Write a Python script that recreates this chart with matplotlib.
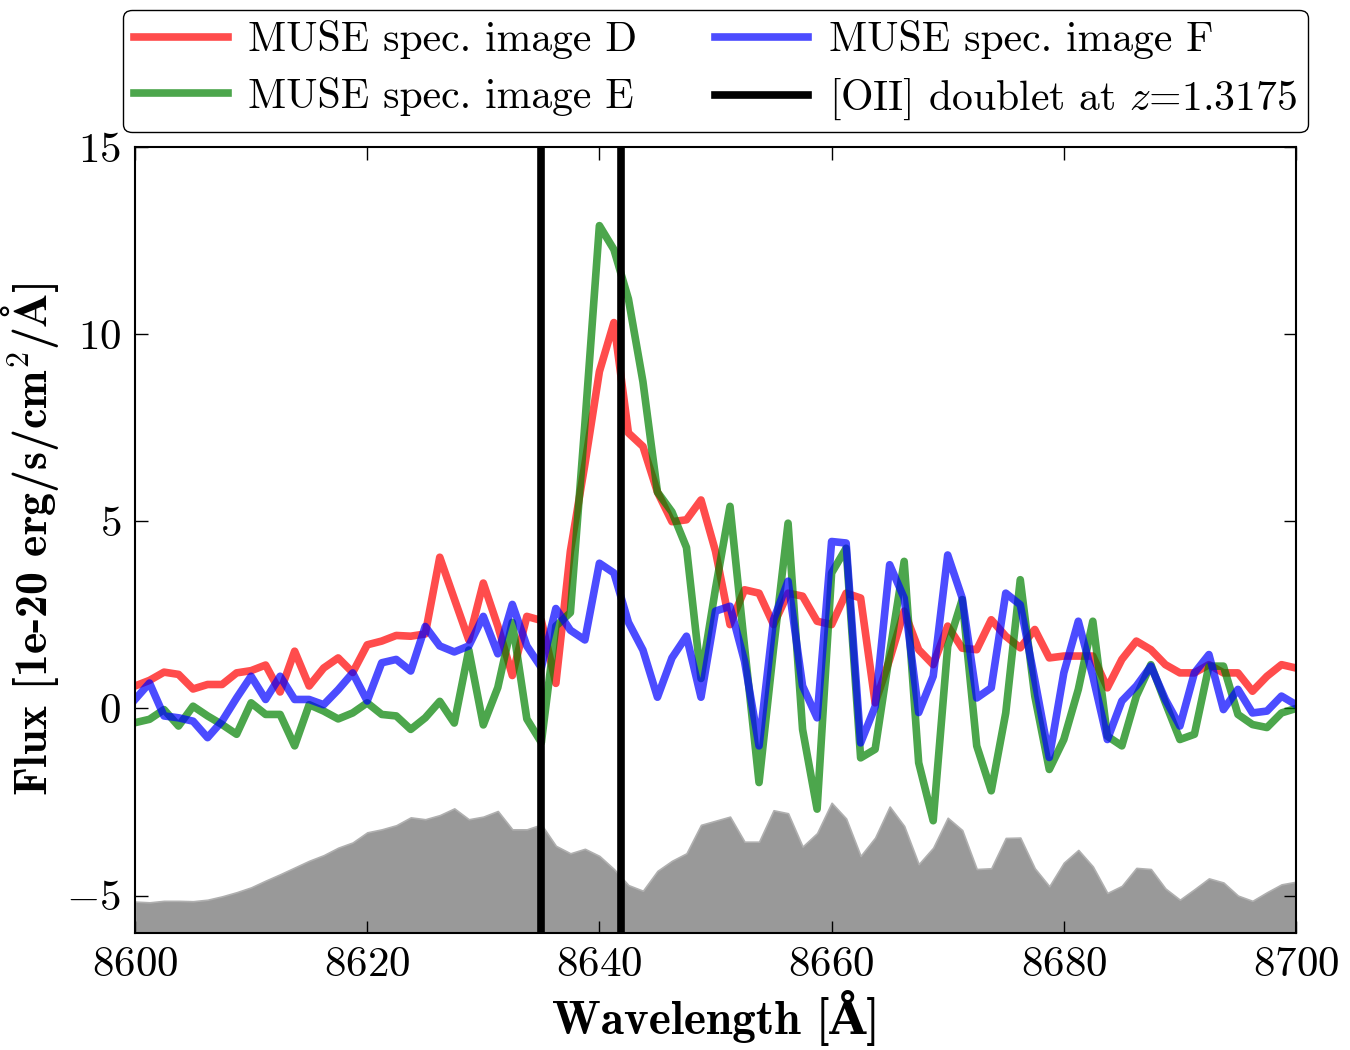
import numpy as np
import matplotlib
matplotlib.use('Agg')
import matplotlib.pyplot as plt

plt.rcParams['font.family'] = ['cmr10', 'DejaVu Serif']
plt.rcParams['mathtext.fontset'] = 'cm'
plt.rcParams['axes.formatter.use_mathtext'] = True

# wavelength grid (MUSE sampling, 1.25 A)
wave = 8600 + 1.25 * np.arange(81)

spec_D = [0.6, 0.75, 0.97, 0.91, 0.52, 0.64, 0.64, 0.95, 1.01, 1.16,
          0.44, 1.53, 0.6, 1.08, 1.35, 0.96, 1.7, 1.8, 1.95, 1.93,
          1.99, 4.04, 2.93, 1.83, 3.35, 2.2, 0.88, 2.46, 2.35, 0.67,
          4.2, 6.52, 9.0, 10.31, 7.36, 7.0, 5.78, 4.99, 5.04, 5.57,
          4.2, 2.24, 3.17, 3.08, 2.24, 3.08, 3.0, 2.33, 2.24, 3.08,
          2.95, 0.15, 1.31, 2.6, 1.57, 1.17, 2.2, 1.61, 1.57, 2.37,
          1.93, 1.62, 2.11, 1.35, 1.4, 1.4, 1.4, 0.55, 1.31, 1.8,
          1.57, 1.17, 0.95, 0.95, 1.17, 0.95, 0.95, 0.46, 0.86, 1.17,
          1.08]

spec_E = [-0.38, -0.29, -0.03, -0.47, 0.06, -0.2, -0.43, -0.69, 0.15, -0.16,
          -0.16, -1.0, 0.1, -0.07, -0.28, -0.12, 0.15, -0.16, -0.2, -0.56,
          -0.25, 0.19, -0.39, 1.56, -0.44, 0.56, 2.3, -0.28, -0.91, 2.2,
          2.56, 7.6, 12.9, 12.26, 10.94, 8.73, 5.78, 5.25, 4.3, 0.8,
          3.2, 5.4, 1.66, -1.98, 1.6, 4.95, -0.56, -2.69, 3.62, 4.28,
          -1.32, -1.09, 1.48, 3.93, -1.45, -3.0, 1.66, 2.91, -1.0, -2.2,
          -0.12, 3.44, 0.33, -1.63, -0.83, 0.51, 2.33, -0.74, -1.0, 0.33,
          1.17, 0.15, -0.83, -0.69, 1.13, 1.13, -0.16, -0.43, -0.51, -0.12,
          0.0]

spec_F = [0.24, 0.68, -0.2, -0.25, -0.34, -0.78, -0.34, 0.28, 0.86, 0.24,
          0.86, 0.24, 0.24, 0.1, 0.5, 0.95, 0.2, 1.22, 1.31, 1.0,
          2.19, 1.67, 1.51, 1.67, 2.46, 1.46, 2.78, 1.67, 1.09, 2.67,
          2.09, 1.83, 3.88, 3.62, 2.3, 1.56, 0.3, 1.35, 1.93, 0.3,
          2.6, 2.73, 1.26, -1.0, 2.37, 3.4, 0.6, -0.25, 4.46, 4.42,
          -0.92, 0.05, 3.84, 2.95, -0.11, 0.86, 4.1, 2.95, 0.28, 0.55,
          3.08, 2.77, 0.77, -1.31, 0.95, 2.33, 0.86, -0.83, 0.2, 0.6,
          1.13, 0.24, -0.47, 0.95, 1.44, -0.03, 0.51, -0.12, -0.07, 0.33,
          0.1]

# scaled sky spectrum (grey)
sky = [-5.16, -5.18, -5.14, -5.14, -5.15, -5.11, -5.02, -4.91, -4.78, -4.6,
       -4.43, -4.25, -4.07, -3.92, -3.72, -3.58, -3.31, -3.23, -3.12, -2.91,
       -2.96, -2.85, -2.67, -2.96, -2.89, -2.74, -3.23, -3.23, -3.1, -3.67,
       -3.87, -3.75, -3.94, -4.29, -4.72, -4.87, -4.34, -4.07, -3.87, -3.11,
       -3.0, -2.89, -3.56, -3.56, -2.72, -2.8, -3.69, -3.33, -2.52, -2.94,
       -3.94, -3.45, -2.62, -3.14, -4.16, -3.72, -2.92, -3.25, -4.29, -4.27,
       -3.46, -3.45, -4.27, -4.75, -4.12, -3.78, -4.22, -4.93, -4.74, -4.26,
       -4.29, -4.81, -5.11, -4.83, -4.54, -4.65, -5.0, -5.14, -4.91, -4.7,
       -4.63]

oii_lines = [8635.0, 8641.9]

fig = plt.figure(figsize=(13.5, 10.5), dpi=100)
ax = fig.add_axes([0.1, 0.1114, 0.86, 0.7486])

ax.fill_between(wave, sky, -10, facecolor='#999999', edgecolor='#b0b0b0', lw=1.2, zorder=1)

ax.plot(wave, spec_D, color='r', alpha=0.7, lw=5.5, label='MUSE spec. image D', zorder=2)
ax.plot(wave, spec_E, color='g', alpha=0.7, lw=5.5, label='MUSE spec. image E', zorder=2)
ax.plot(wave, spec_F, color='b', alpha=0.7, lw=5.5, label='MUSE spec. image F', zorder=2)
for i, w in enumerate(oii_lines):
    ax.axvline(w, color='k', lw=5.5, zorder=3,
               label='[OII] doublet at $z$=1.3175' if i == 0 else None)

ax.set_xlim(8600, 8700)
ax.set_ylim(-6, 15)
ax.set_xticks(np.arange(8600, 8701, 20))
ax.set_yticks([-5, 0, 5, 10, 15])
ax.tick_params(direction='in', top=True, right=True, length=9, width=1, labelsize=31, pad=10)
for s in ax.spines.values():
    s.set_linewidth(1.5)

ax.set_xlabel('Wavelength [Å]', fontsize=34, family=['cmb10', 'DejaVu Serif'], fontweight='bold')
ax.set_ylabel(r'Flux [1e-20 erg/s/cm$^2$/$\mathbf{Å}$]', fontsize=33,
              family=['cmb10', 'DejaVu Serif'], fontweight='bold')

leg = ax.legend(loc='lower center', bbox_to_anchor=(0.5, 1.0), ncol=2, fontsize=30,
                handlelength=2.25, handletextpad=0.5, columnspacing=1.85, labelspacing=0.42,
                borderpad=0.25, borderaxespad=0.35, fancybox=True, framealpha=1, edgecolor='k')
leg.get_frame().set_linewidth(1.0)

fig.savefig('out.png', dpi=100)
